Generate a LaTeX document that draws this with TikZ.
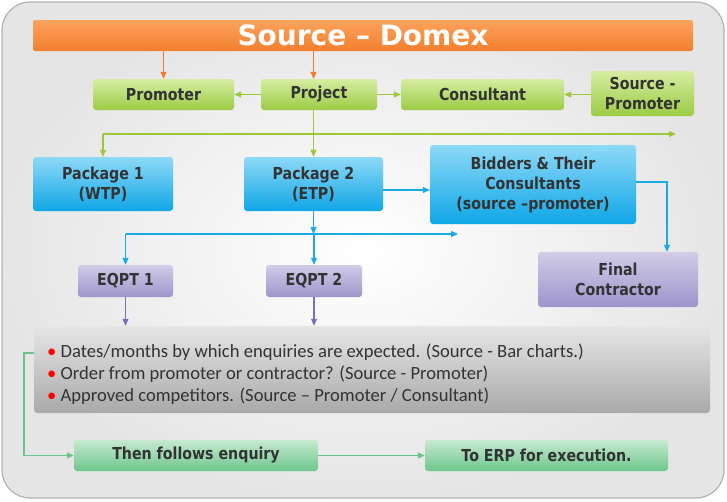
\documentclass[tikz,border=0pt]{standalone}
\usepackage{fontspec}
\setmainfont{DejaVu Sans}
\newfontfamily\boxfont{DejaVu Sans}[FakeStretch=0.86]
\newfontfamily\notefont{Carlito}
\usetikzlibrary{arrows.meta}

\definecolor{txtgray}{HTML}{333333}
\definecolor{ortop}{HTML}{FBA35C}
\definecolor{orbot}{HTML}{F27F2E}
\definecolor{orline}{HTML}{F07C30}
\definecolor{grtop}{HTML}{D6EDA2}
\definecolor{grbot}{HTML}{9CCB45}
\definecolor{grline}{HTML}{9CC83C}
\definecolor{bltop}{HTML}{8ED9F7}
\definecolor{blbot}{HTML}{0FA6E6}
\definecolor{blline}{HTML}{1EA8E6}
\definecolor{putop}{HTML}{D2CCE8}
\definecolor{pubot}{HTML}{9D95CB}
\definecolor{puline}{HTML}{7B6FB8}
\definecolor{mitop}{HTML}{C6EAD0}
\definecolor{mibot}{HTML}{6DC58C}
\definecolor{miline}{HTML}{6CC48A}
\definecolor{notetop}{HTML}{E6E6E6}
\definecolor{notebot}{HTML}{A9A9AB}

\tikzset{
  box/.style={rounded corners=3pt, inner sep=0pt, align=center, text=txtgray,
    font=\boxfont\bfseries\fontsize{16.5}{20}\selectfont},
  greenbox/.style={box, top color=grtop, bottom color=grbot},
  bluebox/.style={box, top color=bltop, bottom color=blbot},
  purplebox/.style={box, top color=putop, bottom color=pubot},
  mintbox/.style={box, top color=mitop, bottom color=mibot},
  link/.style={-{Triangle[length=7pt,width=6pt]}, line width=1.1pt},
}

\begin{document}
\begin{tikzpicture}[x=1pt,y=-1pt]
  \useasboundingbox (0,0) rectangle (727,501);

  % Background panel
  \shade[rounded corners=28pt, inner color=white, outer color=black!10]
    (2,2) rectangle (724,498);
  \draw[rounded corners=28pt, black!30, line width=1.2pt] (2,2) rectangle (724,498);

  % Title bar
  \node[box, rounded corners=2pt, top color=ortop, bottom color=orbot,
    minimum width=660pt, minimum height=31pt, text=white,
    font=\bfseries\fontsize{28}{30}\selectfont] (title) at (363,35.5) {Source – Domex};

  % Top row
  \node[greenbox, minimum width=141pt, minimum height=31pt] (promoter) at (163.5,94.5) {Promoter};
  \node[greenbox, minimum width=116pt, minimum height=31pt] (project) at (319,94.5) {Project};
  \node[greenbox, minimum width=163pt, minimum height=31pt] (consultant) at (482.5,94.5) {Consultant};
  \node[greenbox, minimum width=103pt, minimum height=45pt] (srcprom) at (642.5,93.5) {Source -\\Promoter};

  % Packages
  \node[bluebox, minimum width=140pt, minimum height=54pt] (pk1) at (103,184) {Package 1\\(WTP)};
  \node[bluebox, minimum width=139pt, minimum height=54pt] (pk2) at (313.5,184) {Package 2\\(ETP)};
  \node[bluebox, minimum width=206pt, minimum height=79pt] (bidders) at (533,184.5)
    {Bidders \& Their\\Consultants\\(source –promoter)};

  % Equipment and contractor
  \node[purplebox, minimum width=95pt, minimum height=32pt] (eq1) at (125.5,281) {EQPT 1};
  \node[purplebox, minimum width=96pt, minimum height=32pt] (eq2) at (314,281) {EQPT 2};
  \node[purplebox, minimum width=160pt, minimum height=55pt] (final) at (618,279.5) {Final\\Contractor};

  % Notes
  \node[box, top color=notetop, bottom color=notebot, minimum width=676pt, minimum height=87pt]
    (notes) at (372,369.5) {};
  \node[anchor=west, align=left, text=txtgray, inner sep=0pt,
    font=\notefont\fontsize{18.6}{22}\selectfont] (notetext) at (47,374)
    {{\color{red}\textbullet} Dates/months by which enquiries are expected. (Source - Bar charts.)\\
     {\color{red}\textbullet} Order from promoter or contractor? (Source - Promoter)\\
     {\color{red}\textbullet} Approved competitors. (Source – Promoter / Consultant)};

  % Bottom row
  \node[mintbox, minimum width=244pt, minimum height=31pt] (enq) at (196,455.5) {Then follows enquiry};
  \node[mintbox, minimum width=243pt, minimum height=31pt] (erp) at (546.5,455.5) {To ERP for execution.};

  % Free ends
  \coordinate (gbus) at (676,134);
  \coordinate (bbus) at (458,234);
  \coordinate (bturn) at (667,182);
  \coordinate (nturn) at (24,353);

  % Orange links
  \draw[link, orline] (title.south -| promoter) -- (promoter.north);
  \draw[link, orline] (title.south -| pk2) -- (project.north -| pk2);

  % Green links
  \draw[link, grline] (project) -- (promoter);
  \draw[link, grline] (project) -- (consultant);
  \draw[link, grline] (srcprom.west |- consultant) -- (consultant);
  \draw[grline, line width=1.1pt] (project.south -| pk2) -- (gbus -| pk2);
  \draw[link, grline] (gbus -| pk1) -- (gbus);
  \draw[link, grline] (gbus -| pk1) -- (pk1.north);
  \draw[link, grline] (gbus -| pk2) -- (pk2.north);

  % Blue links
  \draw[link, blline] (pk2.east |- 0,190) -- (bidders.west |- 0,190);
  \draw[link, blline] (bidders.east |- bturn) -- (bturn) -- (final.north -| bturn);
  \draw[link, blline] (pk2.south) -- (bbus -| pk2);
  \draw[link, blline] (bbus -| eq1) -- (bbus);
  \draw[link, blline] (bbus -| eq1) -- (eq1.north);
  \draw[link, blline] (bbus -| eq2) -- (eq2.north);

  % Purple links
  \draw[link, puline] (eq1.south) -- (notes.north -| eq1);
  \draw[link, puline] (eq2.south) -- (notes.north -| eq2);

  % Mint links
  \draw[link, miline] (notes.west |- nturn) -- (nturn) |- (enq.west);
  \draw[link, miline] (enq) -- (erp);

\end{tikzpicture}
\end{document}
